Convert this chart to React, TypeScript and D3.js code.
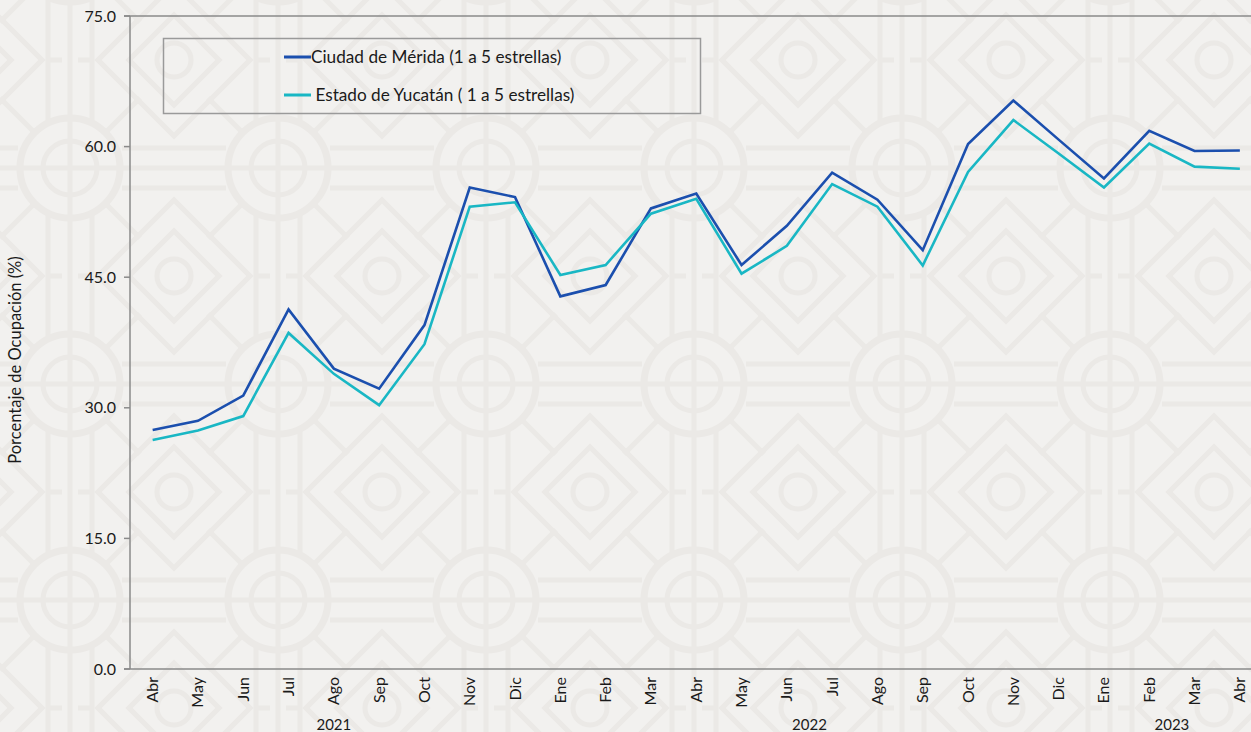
import React from 'react';
import * as d3 from 'd3';

const months = ['Abr','May','Jun','Jul','Ago','Sep','Oct','Nov','Dic','Ene','Feb','Mar','Abr','May','Jun','Jul','Ago','Sep','Oct','Nov','Dic','Ene','Feb','Mar','Abr'];
const yearLabels = ['2021','2022','2023'];
const yearStart = [0, 9, 21];
const yearEnd = [8, 20, 24];
const merida = [27.45,28.5,31.4,41.3,34.5,32.2,39.5,55.3,54.2,42.8,44.1,52.9,54.6,46.4,50.9,57.0,53.9,48.1,60.3,65.3,60.8,56.35,61.8,59.5,59.55];
const yucatan = [26.3,27.4,29.05,38.6,33.9,30.3,37.3,53.1,53.6,45.25,46.4,52.3,54.0,45.4,48.6,55.7,53.1,46.35,57.1,63.05,59.2,55.3,60.35,57.7,57.45];
const seriesNames = ['Ciudad de Mérida (1 a 5 estrellas)', ' Estado de Yucatán ( 1 a 5 estrellas)'];
const seriesColors = ['#1b4fae', '#19b7c4'];
const yTicks = [0, 15, 30, 45, 60, 75];

const W = 1251, H = 732;
const left = 130, top = 16, bottom = 669;
const step = 45.3;
const FONT = 'Lato, "Noto Sans", sans-serif';

export default function App() {
  const x = d3.scalePoint<number>().domain(months.map((_, i) => i)).range([left, left + step * months.length]).padding(0.5);
  const y = d3.scaleLinear().domain([0, 75]).range([bottom, top]);
  const line = d3.line<number>().x((_, i) => x(i) as number).y(d => y(d));
  const data = [merida, yucatan];

  const pc = '#ebe9e6';
  const tw = 208, th = 216;
  const cx = 104, cy = 108;
  const corners = [[0, 0], [tw, 0], [0, th], [tw, th]];
  const diamond = (ox: number, oy: number, r: number) => `M${ox + r},${oy}L${ox},${oy + r}L${ox - r},${oy}L${ox},${oy - r}Z`;

  return (
    <svg width={W} height={H} style={{ position: 'absolute', left: 0, top: 0, fontFamily: FONT }}>
      <defs>
        <pattern id="bg" patternUnits="userSpaceOnUse" width={tw} height={th} x={-34} y={60}>
          <rect width={tw} height={th} fill="#f2f1ef" />
          <g fill="none" stroke={pc} strokeWidth={5}>
            <circle cx={cx} cy={cy} r={50} strokeWidth={7} />
            <circle cx={cx} cy={cy} r={27} />
            <line x1={cx} y1={0} x2={cx} y2={th} />
            <line x1={0} y1={cy} x2={tw} y2={cy} />
            <line x1={0} y1={cy - 20} x2={cx - 52} y2={cy - 20} />
            <line x1={cx + 52} y1={cy - 20} x2={tw} y2={cy - 20} />
            <line x1={0} y1={cy + 20} x2={cx - 52} y2={cy + 20} />
            <line x1={cx + 52} y1={cy + 20} x2={tw} y2={cy + 20} />
            <line x1={cx - 22} y1={0} x2={cx - 22} y2={cy - 47} />
            <line x1={cx + 22} y1={0} x2={cx + 22} y2={cy - 47} />
            <line x1={cx - 22} y1={cy + 47} x2={cx - 22} y2={th} />
            <line x1={cx + 22} y1={cy + 47} x2={cx + 22} y2={th} />
            {[[-1, -1], [1, -1], [-1, 1], [1, 1]].map(([dx, dy], i) => (
              <line key={'d' + i} x1={cx + dx * 37} y1={cy + dy * 37} x2={cx + dx * 70} y2={cy + dy * 70} />
            ))}
            {corners.map(([ox, oy], i) => (
              <g key={'c' + i}>
                <path d={diamond(ox, oy, 76)} />
                <path d={diamond(ox, oy, 45)} />
                <circle cx={ox} cy={oy} r={17} />
                <line x1={ox - 96} y1={oy} x2={ox - 80} y2={oy} />
                <line x1={ox + 80} y1={oy} x2={ox + 96} y2={oy} />
              </g>
            ))}
          </g>
        </pattern>
      </defs>
      <rect width={W} height={H} fill="url(#bg)" />

      {/* axes */}
      <g stroke="#8a8a8a" strokeWidth={1.5}>
        <line x1={left} y1={top} x2={left} y2={bottom} />
        <line x1={left - 6} y1={bottom} x2={W} y2={bottom} />
        <line x1={left - 6} y1={top} x2={W} y2={top} />
        {yTicks.map(t => (
          <line key={t} x1={left - 6} y1={y(t)} x2={left} y2={y(t)} />
        ))}
      </g>
      <g fontSize={16} fill="#1a1a1a">
        {yTicks.map(t => (
          <text key={t} x={left - 14} y={y(t)} dy="0.35em" textAnchor="end">{t.toFixed(1)}</text>
        ))}
        <text transform={`translate(21,${360}) rotate(-90)`} textAnchor="middle" fontSize={16.5}>Porcentaje de Ocupación (%)</text>
        {months.map((m, i) => (
          <text key={i} transform={`translate(${(x(i) as number) + 5.5},${bottom + 8}) rotate(-90)`} textAnchor="end" fontSize={16}>{m}</text>
        ))}
        {yearLabels.map((yl, i) => (
          <text key={yl} x={((x(yearStart[i]) as number) + (x(yearEnd[i]) as number)) / 2} y={730} textAnchor="middle" fontSize={15}>{yl}</text>
        ))}
      </g>

      {/* lines */}
      {data.map((d, i) => (
        <path key={i} d={line(d) || ''} fill="none" stroke={seriesColors[i]} strokeWidth={2.6} strokeLinejoin="miter" />
      ))}

      {/* legend */}
      <rect x={163.5} y={38.5} width={537} height={75} fill="none" stroke="#9a9a9a" strokeWidth={1.5} />
      {seriesNames.map((n, i) => (
        <g key={n}>
          <line x1={284} x2={311} y1={57 + i * 38} y2={57 + i * 38} stroke={seriesColors[i]} strokeWidth={3} />
          <text x={311} y={57 + i * 38} dy="0.35em" fontSize={17.2} fill="#1a1a1a" style={{ whiteSpace: 'pre' }}>{n}</text>
        </g>
      ))}
    </svg>
  );
}
